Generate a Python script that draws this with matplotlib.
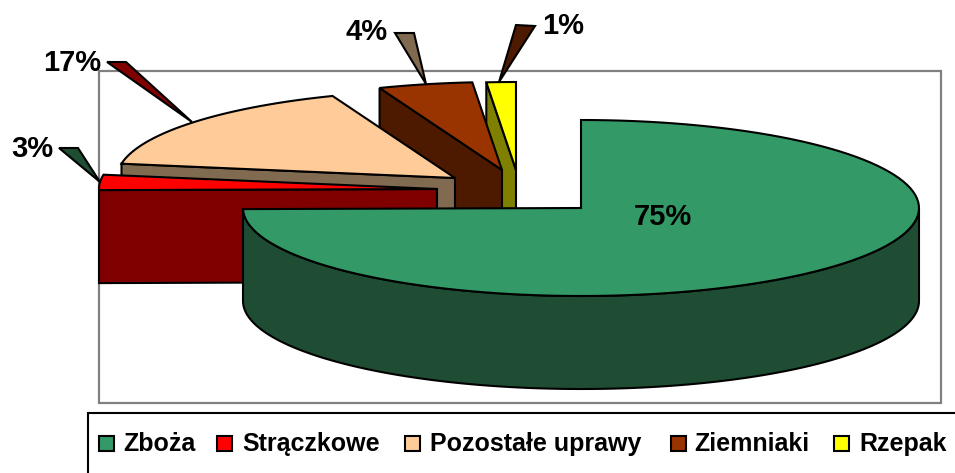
import numpy as np
import matplotlib
matplotlib.use('Agg')
import matplotlib.pyplot as plt
from matplotlib.patches import Polygon, Rectangle

plt.rcParams['font.family'] = ['Liberation Sans', 'DejaVu Sans']

# Dane
categories = ['Zboża', 'Strączkowe', 'Pozostałe uprawy', 'Ziemniaki', 'Rzepak']
shares = [74.8, 2.8, 16.5, 4.5, 1.4]
share_labels = ['75%', '3%', '17%', '4%', '1%']

# Kolory
top_colors = ['#339966', '#FF0000', '#FFCC99', '#993300', '#FFFF00']
side_colors = ['#1E4D33', '#800000', '#806A50', '#4D1A00', '#808000']

# Uklad (w pikselach obrazka)
rx, ry, depth = 338, 88, 93
apex = [(581, 208), (437, 189), (455, 178), (502, 170), (516, 170)]
label_pos = [(663, 217), (32, 149), (72, 63), (367, 32), (563, 26)]
leaders = [None,
           [(59, 148), (78, 148), (100, 182)],
           [(107, 62), (126, 62), (192, 122)],
           [(395, 33), (414, 33), (426, 84)],
           [(516, 25), (535, 26), (499, 82)]]
leader_colors = [None, '#1E4D33', '#800000', '#806A50', '#4D1A00']
legend_box_x = [99, 217, 405, 671, 834]
legend_text_x = [123, 242, 430, 694, 859]

fig = plt.figure(figsize=(9.55, 4.73), dpi=100)
ax = fig.add_axes([0, 0, 1, 1])
ax.set_xlim(0, 955)
ax.set_ylim(473, 0)
ax.axis('off')


def arc(center, t1, t2):
    t = np.radians(np.linspace(t1, t2, 120))
    return np.column_stack([center[0] + rx * np.cos(t), center[1] - ry * np.sin(t)])


def poly(points, color, z):
    ax.add_patch(Polygon(points, closed=True, facecolor=color, edgecolor='black',
                         linewidth=1.5, joinstyle='miter', zorder=z))


# Ramka wykresu i legendy
ax.add_patch(Rectangle((99, 71), 842, 332, fill=False, edgecolor='#808080', linewidth=1.6, zorder=1))
ax.add_patch(Rectangle((88, 413), 880, 80, facecolor='white', edgecolor='black', linewidth=1.5, zorder=1))

# Katy wycinkow, od gory zgodnie z ruchem wskazowek
ends = 90 - np.cumsum(shares) * 3.6
starts = np.concatenate([[90], ends[:-1]])

# Malowane od tylu do przodu
for i in [4, 3, 2, 1]:
    a = arc(apex[i], ends[i], starts[i])
    first = a[-1]
    front = np.array([first, apex[i], (apex[i][0], apex[i][1] + depth), (first[0], first[1] + depth)])
    poly(front, side_colors[i], 2 + (4 - i))
    # 1% - obok niego sa tylko boki, gora nad wszystkim z tego wycinka
    poly(np.vstack([[apex[i]], a]), top_colors[i], 2 + (4 - i))

# Duzy wycinek Zboza
t_start, t_end = starts[0], ends[0]
front = arc(apex[0], 180, 360)
side = np.vstack([front, front[::-1] + [0, depth]])
poly(side, side_colors[0], 7)
poly(np.vstack([[apex[0]], arc(apex[0], t_start, t_end)]), top_colors[0], 8)

# Linie odniesienia i etykiety
for i, pts in enumerate(leaders):
    if pts is not None:
        poly(pts, leader_colors[i], 9)
    ax.text(label_pos[i][0], label_pos[i][1], share_labels[i], fontsize=21, fontweight='bold',
            ha='center', va='center', color='black', zorder=10)

# Legenda
for i, name in enumerate(categories):
    ax.add_patch(Rectangle((legend_box_x[i], 436), 15, 15, facecolor=top_colors[i], edgecolor='black',
                           linewidth=1.5, zorder=3))
    ax.text(legend_text_x[i], 444, name, fontsize=18, fontweight='bold', ha='left', va='center',
            color='black', zorder=3)

fig.savefig('out.png', dpi=100)
